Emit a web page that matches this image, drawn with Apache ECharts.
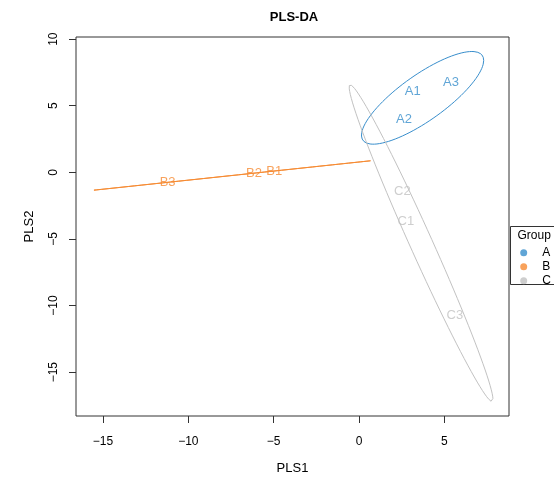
<!DOCTYPE html>
<html>
<head>
<meta charset="utf-8">
<script src="https://cdn.jsdelivr.net/npm/echarts@6/dist/echarts.min.js"></script>
<style>html,body{margin:0;padding:0;background:#fff}#chart{width:554px;height:483px}</style>
</head>
<body>
<div id="chart"></div>
<script>
// ---- data ----
const groups = ['A', 'B', 'C'];
const groupColors = ['#388ECC', '#F68B33', '#C2C2C2'];
const namesA = ['A1', 'A2', 'A3'];
const pls1A = [3.15, 2.64, 5.39];
const pls2A = [6.05, 4.00, 6.73];
const namesB = ['B1', 'B2', 'B3'];
const pls1B = [-4.96, -6.15, -11.21];
const pls2B = [0.10, -0.06, -0.75];
const namesC = ['C1', 'C2', 'C3'];
const pls1C = [2.75, 2.54, 5.62];
const pls2C = [-3.71, -1.46, -10.77];
const xTicks = [-15, -10, -5, 0, 5];
const yTicks = [-15, -10, -5, 0, 5, 10];
const ellipseLevel = 0.95;

const groupData = [
  {names: namesA, x: pls1A, y: pls2A},
  {names: namesB, x: pls1B, y: pls2B},
  {names: namesC, x: pls1C, y: pls2C}
];

// 95% confidence ellipse (as in ellipse::ellipse with t = sqrt(qchisq(level, 2)))
function ellipsePoints(xs, ys, level, n) {
  const m = xs.length;
  const mx = xs.reduce((a, b) => a + b, 0) / m;
  const my = ys.reduce((a, b) => a + b, 0) / m;
  let sxx = 0, syy = 0, sxy = 0;
  for (let i = 0; i < m; i++) {
    sxx += (xs[i] - mx) * (xs[i] - mx);
    syy += (ys[i] - my) * (ys[i] - my);
    sxy += (xs[i] - mx) * (ys[i] - my);
  }
  sxx /= (m - 1); syy /= (m - 1); sxy /= (m - 1);
  const t = Math.sqrt(-2 * Math.log(1 - level));
  const sx = Math.sqrt(sxx), sy = Math.sqrt(syy);
  let r = sxy / (sx * sy);
  r = Math.max(-1, Math.min(1, r));
  const d = Math.acos(r);
  const pts = [];
  for (let i = 0; i < n; i++) {
    const a = 2 * Math.PI * i / (n - 1);
    pts.push([t * sx * Math.cos(a + d / 2) + mx, t * sy * Math.cos(a - d / 2) + my]);
  }
  return pts;
}

const minus = v => String(v).replace('-', '\u2212');
const FONT = 'Liberation Sans, Arial, Helvetica, sans-serif';

const series = [];
groups.forEach((g, gi) => {
  const gd = groupData[gi];
  series.push({
    name: g + ' ellipse',
    type: 'line',
    data: ellipsePoints(gd.x, gd.y, ellipseLevel, 100),
    showSymbol: false,
    symbol: 'none',
    smooth: false,
    silent: true,
    lineStyle: {color: groupColors[gi], width: 1},
    itemStyle: {color: groupColors[gi]},
    z: 2
  });
});
groups.forEach((g, gi) => {
  const gd = groupData[gi];
  series.push({
    name: g,
    type: 'scatter',
    symbol: 'circle',
    symbolSize: 0,
    itemStyle: {color: groupColors[gi]},
    data: gd.x.map((v, i) => [v, gd.y[i], gd.names[i]]),
    label: {
      show: true,
      position: 'inside',
      formatter: p => p.data[2],
      color: groupColors[gi],
      fontSize: 13,
      fontFamily: FONT
    },
    z: 3
  });
});

const chart = echarts.init(document.getElementById('chart'), null, {renderer: 'canvas'});
chart.setOption({
  animation: false,
  backgroundColor: '#fff',
  title: {
    text: 'PLS-DA',
    left: 294,
    textAlign: 'center',
    top: 11,
    padding: 0,
    textStyle: {fontSize: 13, fontWeight: 'bold', color: '#000', fontFamily: FONT}
  },
  grid: {
    left: 76, right: 45, top: 37, bottom: 67,
    show: true, borderColor: '#333', borderWidth: 1, backgroundColor: 'transparent'
  },
  xAxis: {
    type: 'value',
    min: -16.58, max: 8.79,
    name: 'PLS1',
    nameLocation: 'middle',
    nameGap: 46,
    nameTextStyle: {fontSize: 13, color: '#000', fontFamily: FONT},
    axisLine: {show: false, onZero: false},
    axisTick: {show: true, length: 7, customValues: xTicks, lineStyle: {color: '#333'}},
    axisLabel: {customValues: xTicks, formatter: minus, margin: 20, fontSize: 12, color: '#000', fontFamily: FONT},
    splitLine: {show: false}
  },
  yAxis: {
    type: 'value',
    min: -18.29, max: 10.16,
    name: 'PLS2',
    nameLocation: 'middle',
    nameRotate: 90,
    nameGap: 40,
    nameTextStyle: {fontSize: 13, color: '#000', fontFamily: FONT},
    axisLine: {show: false, onZero: false},
    axisTick: {show: true, length: 7, customValues: yTicks, lineStyle: {color: '#333'}},
    axisLabel: {customValues: yTicks, formatter: minus, rotate: 90, margin: 16, fontSize: 12, color: '#000', fontFamily: FONT},
    splitLine: {show: false}
  },
  legend: {
    orient: 'vertical',
    left: 520.2,
    top: 246.7,
    padding: 0,
    itemWidth: 7,
    itemHeight: 7,
    itemGap: 2,
    icon: 'circle',
    data: groups,
    textStyle: {fontSize: 12, color: '#000', fontFamily: FONT, padding: [0, 0, 0, 10]}
  },
  graphic: [
    {type: 'rect', left: 510, top: 226, shape: {width: 60, height: 58}, style: {fill: '#fff', stroke: '#333', lineWidth: 1}, z: -1},
    {type: 'text', left: 517.5, top: 230, style: {text: 'Group', font: '12px ' + FONT, fill: '#000'}}
  ],
  series: series
});
</script>
</body>
</html>
